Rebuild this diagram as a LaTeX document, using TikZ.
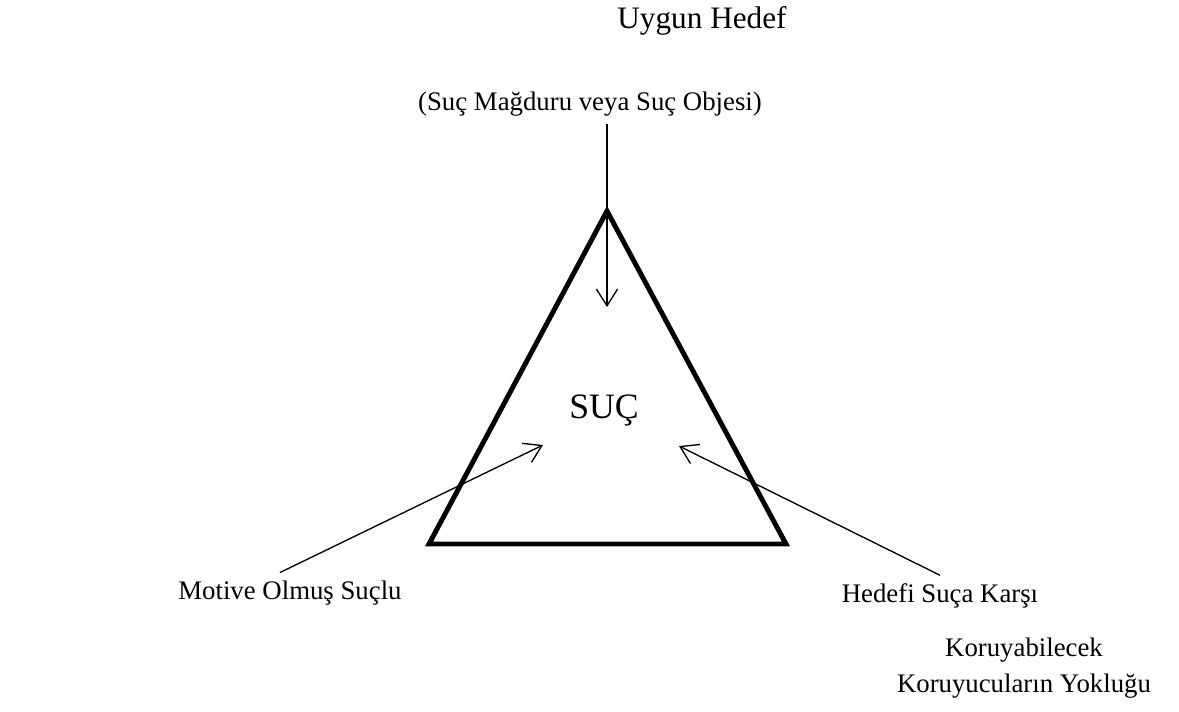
\documentclass[tikz,border=0pt]{standalone}
\usepackage{fontspec}
\setmainfont{Liberation Serif}
\usetikzlibrary{arrows.meta}

\begin{document}
\begin{tikzpicture}[x=0.448pt, y=-0.448pt,
    >={Straight Barb[length=7.5pt,width=9.5pt]},
    lbl/.style={font=\fontsize{12}{15.7}\selectfont, anchor=base, align=center},
    link/.style={->, line width=0.6pt},
    tri/.style={line width=2.2pt}]
\useasboundingbox (0,0) rectangle (1179,711);

% triangle
\coordinate (apex) at (607,211);
\coordinate (bl) at (429,544);
\coordinate (br) at (786,544);
\draw[tri] (apex) -- (br) -- (bl) -- cycle;

% arrow tips inside
\coordinate (tipT) at (607,307);
\coordinate (tipL) at (543,445);
\coordinate (tipR) at (679,446);

\node[lbl, font=\fontsize{14}{17}\selectfont] (hedef) at (702,28) {Uygun Hedef};
\node[lbl] (magdur) at (590,110) {(Suç Mağduru veya Suç Objesi)};
\node[lbl, font=\fontsize{16}{19}\selectfont] (suc) at (604,418) {SUÇ};
\node[lbl] (motive) at (290,599) {Motive Olmuş Suçlu};
\node[lbl] (karsi) at (940,602) {Hedefi Suça Karşı};
\node[lbl] (koruyucu) at (1024,692) {Koruyabilecek\\Koruyucuların Yokluğu};

\draw[link] (magdur.south -| apex) -- (tipT);
\draw[link] ([xshift=-4.5pt]motive.north) -- (tipL);
\draw[link] (karsi.north) -- (tipR);
\end{tikzpicture}
\end{document}
